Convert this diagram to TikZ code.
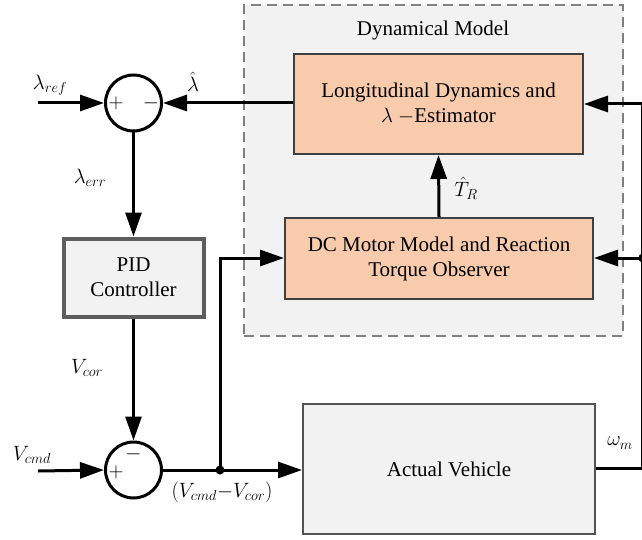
\documentclass[tikz,border=0pt]{standalone}
\usepackage{fontspec}
\setmainfont{Liberation Serif}
\usetikzlibrary{arrows.meta}
\definecolor{peach}{HTML}{F8CBAD}
\definecolor{lgrey}{HTML}{F2F2F2}
\definecolor{dgrey}{HTML}{404040}
\definecolor{mgrey}{HTML}{808080}

\begin{document}
\begin{tikzpicture}[x=1pt,y=-1pt,font=\fontsize{21}{25}\selectfont,
  conn/.style={line width=3pt,draw=black},
  arr/.style={conn,-{Triangle[length=24pt,width=16pt]}},
  peachbox/.style={draw=dgrey,line width=2pt,fill=peach,align=center,inner sep=0pt},
  greybox/.style={draw=dgrey!90,line width=2pt,fill=lgrey,align=center,inner sep=0pt},
  sumnode/.style={circle,draw=black,line width=3pt,fill=white,minimum size=56pt,inner sep=0pt},
  dotnode/.style={circle,fill=black,minimum size=9pt,inner sep=0pt},
  lbl/.style={inner sep=0pt}]
\useasboundingbox (0,0) rectangle (642,540);
% dashed container
\node[draw=mgrey,dash pattern=on 10pt off 6pt,line width=2pt,fill=lgrey,minimum width=379pt,minimum height=331pt,inner sep=0pt] (dyn) at (433.5,170.5) {};
\node[lbl] (dyntitle) at (433,30) {Dynamical Model};
\node[peachbox,minimum width=289pt,minimum height=100pt] (lon) at (438.5,104) {Longitudinal Dynamics and\\$\lambda$ $-$Estimator};
\node[peachbox,minimum width=308pt,minimum height=81pt] (dc) at (439,258.5) {DC Motor Model and Reaction\\Torque Observer};
\node[draw=dgrey!85,line width=4pt,fill=lgrey,align=center,inner sep=0pt,minimum width=140pt,minimum height=78pt] (pid) at (133.5,277.5) {PID\\Controller};
\node[greybox,minimum width=292pt,minimum height=130pt] (av) at (449,469) {Actual Vehicle};
% sums
\node[sumnode] (s1) at (133.5,103) {};
\node[lbl] (s1p) at (116,103) {$+$};
\node[lbl] (s1m) at (151,103) {$-$};
\node[sumnode] (s2) at (133.5,470) {};
\node[lbl] (s2m) at (133.5,454) {$-$};
\node[lbl] (s2p) at (116,472) {$+$};
% free ends
\coordinate (inref) at (38,103);
\coordinate (incmd) at (38,471);
\coordinate (rtop) at (642.8,104);
\coordinate (rbot) at (642.8,468);
\node[dotnode] (jd) at (220,470) {};
\node[dotnode] (jr) at (642.8,258) {};
% connectors
\draw[arr] (inref) -- (s1.west);
\draw[arr] (lon.west |- s1.east) -- (s1.east);
\draw[arr] (s1.south) -- (pid.north);
\draw[arr] (pid.south) -- (s2.north);
\draw[arr] (incmd) -- (s2.west);
\draw[arr] (s2.east) -- (av.west |- s2.east);
\draw[arr] (jd.center) -- (220,258) -- (dc.west |- jr.center);
\draw[arr] (dc.north) -- (lon.south);
\draw[arr] (rtop) -- (lon.east |- rtop);
\draw[arr] (jr.center) -- (dc.east |- jr.center);
\draw[conn] (av.east |- rbot) -- (rbot) -- (rtop);
% labels
\node[lbl] (lref) at (50,85) {$\lambda_{ref}$};
\node[lbl] (lhat) at (193,82) {$\hat\lambda$};
\node[lbl] (lerr) at (90,178) {$\lambda_{err}$};
\node[lbl] (vcor) at (87,368) {$V_{cor}$};
\node[lbl] (vcmd) at (32,455) {$V_{cmd}$};
\node[lbl] (vdiff) at (222,492) {$(V_{cmd}{-}V_{cor})$};
\node[lbl] (wm) at (620,443) {$\omega_m$};
\node[lbl] (tr) at (466,188) {$\hat T_R$};
\end{tikzpicture}
\end{document}
